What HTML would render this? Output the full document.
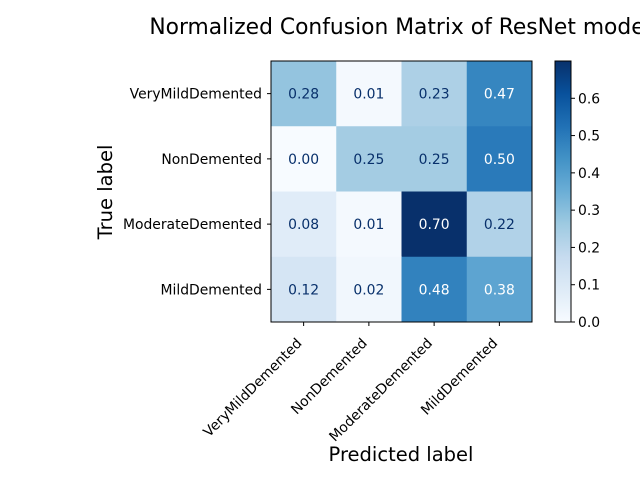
<!DOCTYPE html>
<html><head><meta charset="utf-8"><style>body{margin:0;background:#fff}svg{display:block;font-family:"DejaVu Sans","Liberation Sans",sans-serif}</style></head>
<body>
<svg id="chart" width="640" height="480" viewBox="0 0 640 480">
<text x="400" y="34" font-size="21.8" text-anchor="middle">Normalized Confusion Matrix of ResNet model</text>
<g id="cells"></g><g id="ticks"></g>
<text x="401" y="461" font-size="19.5" text-anchor="middle">Predicted label</text>
<text transform="translate(112,192) rotate(-90)" font-size="19.5" text-anchor="middle">True label</text>
<defs><linearGradient id="cb" x1="0" y1="1" x2="0" y2="0"></linearGradient></defs>
<rect id="cbar" x="555" y="61" width="16" height="261" fill="url(#cb)" stroke="#000" stroke-width="1"/>
<g id="cbticks"></g>
</svg>
<script>
const categories=["VeryMildDemented","NonDemented","ModerateDemented","MildDemented"];
const row0=[0.28,0.01,0.23,0.47];
const row1=[0.00,0.25,0.25,0.50];
const row2=[0.08,0.01,0.70,0.22];
const row3=[0.12,0.02,0.48,0.38];
const cbTicks=[0.0,0.1,0.2,0.3,0.4,0.5,0.6];
const rows=[row0,row1,row2,row3];
const NS="http://www.w3.org/2000/svg";
const stops=["#f7fbff","#deebf7","#c6dbef","#9ecae1","#6baed6","#4292c6","#2171b5","#08519c","#08306b"];
const all=rows.flat();const vmin=Math.min(...all),vmax=Math.max(...all);
function hex(h){return [1,3,5].map(i=>parseInt(h.substr(i,2),16));}
function blues(t){t=Math.max(0,Math.min(1,t));const p=t*(stops.length-1);const i=Math.min(stops.length-2,Math.floor(p));const f=p-i;const a=hex(stops[i]),b=hex(stops[i+1]);return "rgb("+a.map((v,k)=>Math.round(v+(b[k]-v)*f)).join(",")+")";}
const X0=271,Y0=61,W=261,H=261,n=categories.length,cw=W/n,ch=H/n;
const xs=i=>X0+cw*i, ys=j=>Y0+ch*j;
function mk(tag,attrs,parent,txt){const e=document.createElementNS(NS,tag);for(const k in attrs)e.setAttribute(k,attrs[k]);if(txt!=null)e.textContent=txt;parent.appendChild(e);return e;}
const cells=document.getElementById('cells'),ticks=document.getElementById('ticks');
rows.forEach((r,j)=>r.forEach((v,i)=>{
 const rc=mk('rect',{x:xs(i),y:ys(j),width:cw+0.5,height:ch+0.5,fill:blues((v-vmin)/(vmax-vmin))},cells);
 
 
 const t=mk('text',{x:xs(i)+cw/2,y:ys(j)+ch/2+5,'font-size':13.9,'text-anchor':'middle',fill:v>(vmin+vmax)/2?'#fff':'#08306b'},cells,v.toFixed(2));
 
 
}));
mk('rect',{x:X0,y:Y0,width:W,height:H,fill:'none',stroke:'#000','stroke-width':1},cells);
categories.forEach((c,k)=>{
 const cx=xs(k)+cw/2, cy=ys(k)+ch/2;
 mk('line',{x1:cx,y1:Y0+H,x2:cx,y2:Y0+H+4,stroke:'#000'},ticks);
 mk('line',{x1:X0-4,y1:cy,x2:X0,y2:cy,stroke:'#000'},ticks);
 const yl=mk('text',{x:X0-9,y:cy+5,'font-size':13.9,'text-anchor':'end'},ticks,c);
 
 
 const xl=mk('text',{transform:'translate('+(cx-1)+','+(Y0+H+22)+') rotate(-45)','font-size':13.9,'text-anchor':'end'},ticks,c);
 
 
});
const g=document.querySelector('linearGradient');
stops.forEach((s,i)=>mk('stop',{offset:i/(stops.length-1),'stop-color':s},g));
const cbt=document.getElementById('cbticks');
cbTicks.forEach(v=>{
 const y=61+261-(v-vmin)/(vmax-vmin)*261;
 mk('line',{x1:571,y1:y,x2:575,y2:y,stroke:'#000'},cbt);
 const t=mk('text',{x:578,y:y+5,'font-size':13.9},cbt,v.toFixed(1));
 
 
});
</script>
</body></html>
